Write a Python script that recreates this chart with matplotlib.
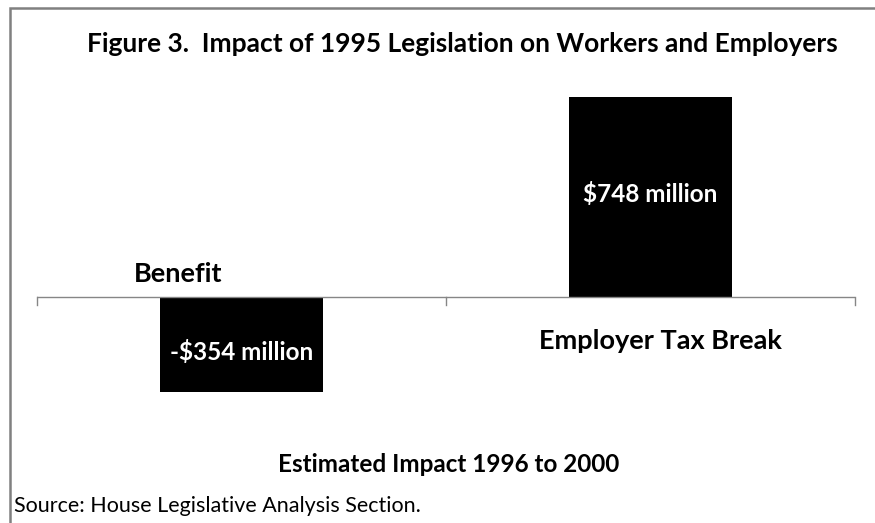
import matplotlib
matplotlib.use("Agg")
import matplotlib.pyplot as plt
from matplotlib.patches import Rectangle

categories = ["Benefit", "Employer Tax Break"]
values = [-354, 748]
value_labels = ["-$354 million", "$748 million"]
title = "Figure 3.  Impact of 1995 Legislation on Workers and Employers"
xlabel = "Estimated Impact 1996 to 2000"
source = "Source: House Legislative Analysis Section."

plt.rcParams['font.family'] = ['Lato', 'DejaVu Sans']

W, H = 875, 523
fig = plt.figure(figsize=(W / 100, H / 100), dpi=100)

# frame
fig.patches.append(Rectangle((9.5 / W, -0.1), 2.0, 1.1 - 7.5 / H, transform=fig.transFigure,
                             fill=False, edgecolor="#808080", linewidth=1.8))

left, right = 37, 855
top, bottom = 83, 404
ax = fig.add_axes([left / W, 1 - bottom / H, (right - left) / W, (bottom - top) / H])
ax.set_xlim(-0.5, 1.5)
ax.set_ylim(-400, 800)

x = list(range(len(categories)))
bars = ax.bar(x, values, width=0.4, color="black")

for s in ["top", "right", "left", "bottom"]:
    ax.spines[s].set_visible(False)
ax.set_yticks([])
ax.set_xticks([])
ax.axhline(0, color="#868686", linewidth=1.0)
for t in [-0.5, 0.5, 1.5]:
    ax.plot([t, t], [0, -30], color="#868686", linewidth=1.0, clip_on=False)

# category labels
ax.text(-0.155, 86, categories[0], ha="center", va="center", fontsize=19.5, fontweight="bold")
ax.text(1.025, -165, categories[1], ha="center", va="center", fontsize=19.5, fontweight="bold")

# value labels
ax.text(0, -205, value_labels[0], ha="center", va="center", fontsize=17.5, fontweight="bold", color="white")
ax.text(1, 385, value_labels[1], ha="center", va="center", fontsize=17.5, fontweight="bold", color="white")

fig.text(462 / W, 1 - 44 / H, title, ha="center", va="center", fontsize=19, fontweight="bold")
fig.text(449 / W, 1 - 464 / H, xlabel, ha="center", va="center", fontsize=17.5, fontweight="bold")
fig.text(14 / W, 1 - 506 / H, source, ha="left", va="center", fontsize=15.5)

fig.savefig("out.png", dpi=100)
